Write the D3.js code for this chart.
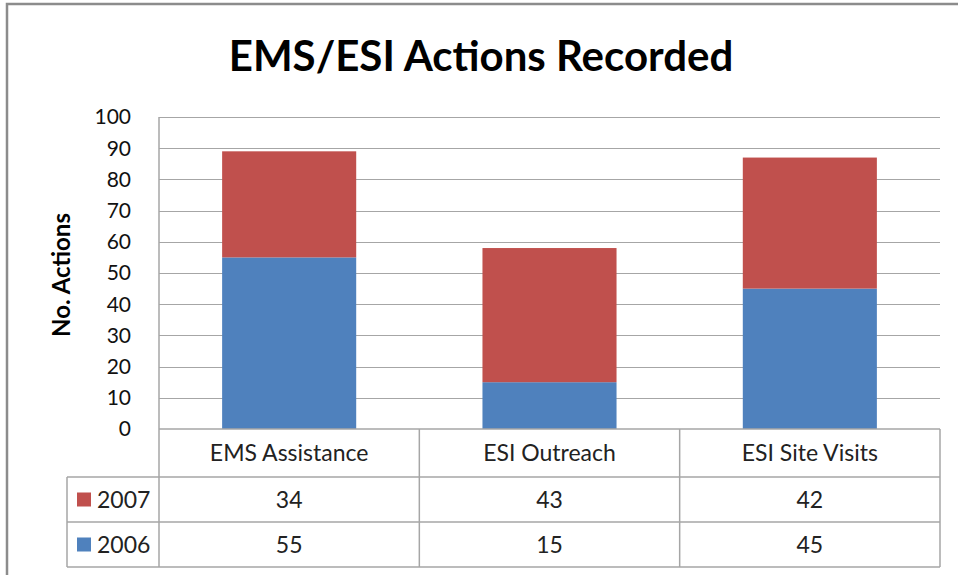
<!DOCTYPE html>
<html>
<head>
<meta charset="utf-8">
<script src="https://cdn.jsdelivr.net/npm/d3@7"></script>
<style>
  body { margin: 0; background: #fff; }
  text { font-family: "Lato", "Open Sans", sans-serif; }
</style>
</head>
<body>
<div id="chart"></div>
<script>
// data
const categories = ["EMS Assistance", "ESI Outreach", "ESI Site Visits"];
const series = ["2006", "2007"];
const values2006 = [55, 15, 45];
const values2007 = [34, 43, 42];
const yTicks = [0, 10, 20, 30, 40, 50, 60, 70, 80, 90, 100];

const colors = { "2006": "#4F81BD", "2007": "#C0504D" };
const gridColor = "#a6a6a6";

const W = 958, H = 575;
const plot = { left: 159, right: 940, top: 117, bottom: 429 };
const table = { left: 67, header: 477, row1: 522, row2: 567 };
const fs = 23;

const svg = d3.select("#chart").append("svg")
    .attr("width", W)
    .attr("height", H);

// outer chart border (top + left visible)
svg.append("path")
    .attr("d", `M7,${H} L7,4 L${W},4`)
    .attr("fill", "none")
    .attr("stroke", "#8c8c8c")
    .attr("stroke-width", 2.5);

// scales
const xCol = d3.scaleBand()
    .domain(categories)
    .range([plot.left, plot.right])
    .padding(0);

const x = d3.scaleBand()
    .domain(categories)
    .range([plot.left, plot.right])
    .paddingInner(0.485)
    .paddingOuter(0.2425);

const y = d3.scaleLinear()
    .domain([0, 100])
    .range([plot.bottom, plot.top]);

// gridlines
svg.append("g")
    .selectAll("line")
    .data(yTicks.slice(1))
    .join("line")
    .attr("x1", plot.left)
    .attr("x2", plot.right)
    .attr("y1", d => Math.round(y(d)) + 0.5)
    .attr("y2", d => Math.round(y(d)) + 0.5)
    .attr("stroke", gridColor)
    .attr("stroke-width", 1.2);

// stacked bars
const rows = categories.map((c, i) => ({ cat: c, "2006": values2006[i], "2007": values2007[i] }));
const stacked = d3.stack().keys(series)(rows);

svg.append("g")
    .selectAll("g")
    .data(stacked)
    .join("g")
    .attr("fill", d => colors[d.key])
    .selectAll("rect")
    .data(d => d)
    .join("rect")
    .attr("x", d => x(d.data.cat))
    .attr("width", x.bandwidth())
    .attr("y", d => y(d[1]))
    .attr("height", d => y(d[0]) - y(d[1]));

// y axis tick labels
svg.append("g")
    .selectAll("text")
    .data(yTicks)
    .join("text")
    .attr("x", 131)
    .attr("y", d => y(d))
    .attr("dy", "0.35em")
    .attr("text-anchor", "end")
    .attr("font-size", 21)
    .attr("fill", "#111")
    .text(d => d);

// y axis title
svg.append("text")
    .attr("transform", `translate(70,${(plot.top + plot.bottom) / 2 + 2}) rotate(-90)`)
    .attr("text-anchor", "middle")
    .attr("font-size", 24)
    .attr("font-weight", "bold")
    .text("No.  Actions");

// title
svg.append("text")
    .attr("x", 481)
    .attr("y", 71)
    .attr("text-anchor", "middle")
    .attr("font-size", 42)
    .attr("font-weight", "bold")
    .text("EMS/ESI Actions Recorded");

// data table lines
const tbl = svg.append("g")
    .attr("stroke", gridColor)
    .attr("stroke-width", 1.5)
    .attr("fill", "none");

// vertical axis + table left of header
tbl.append("line")
    .attr("x1", plot.left).attr("x2", plot.left)
    .attr("y1", plot.top).attr("y2", table.row2);

// column dividers
tbl.selectAll(".col")
    .data(categories)
    .join("line")
    .attr("class", "col")
    .attr("x1", d => xCol(d) + xCol.bandwidth())
    .attr("x2", d => xCol(d) + xCol.bandwidth())
    .attr("y1", plot.bottom)
    .attr("y2", table.row2);

// horizontal lines
tbl.append("line")
    .attr("x1", plot.left).attr("x2", plot.right)
    .attr("y1", plot.bottom).attr("y2", plot.bottom);

tbl.selectAll(".hrow")
    .data([table.header, table.row1, table.row2])
    .join("line")
    .attr("class", "hrow")
    .attr("x1", table.left)
    .attr("x2", plot.right)
    .attr("y1", d => d)
    .attr("y2", d => d);

tbl.append("line")
    .attr("x1", table.left).attr("x2", table.left)
    .attr("y1", table.header).attr("y2", table.row2);

// header labels
svg.append("g")
    .selectAll("text")
    .data(categories)
    .join("text")
    .attr("x", d => xCol(d) + xCol.bandwidth() / 2)
    .attr("y", (plot.bottom + table.header) / 2)
    .attr("dy", "0.35em")
    .attr("text-anchor", "middle")
    .attr("font-size", fs)
    .attr("fill", "#222")
    .text(d => d);

// table rows: 2007 on top, 2006 below
const tableRows = [
    { key: "2007", vals: values2007, top: table.header, bottom: table.row1 },
    { key: "2006", vals: values2006, top: table.row1, bottom: table.row2 }
];

tableRows.forEach(r => {
    const cy = (r.top + r.bottom) / 2;
    svg.append("rect")
        .attr("x", 77)
        .attr("y", cy - 7)
        .attr("width", 14)
        .attr("height", 14)
        .attr("fill", colors[r.key]);
    svg.append("text")
        .attr("x", 97)
        .attr("y", cy)
        .attr("dy", "0.35em")
        .attr("font-size", fs)
        .attr("fill", "#222")
        .text(r.key);
    svg.append("g")
        .selectAll("text")
        .data(categories)
        .join("text")
        .attr("x", d => xCol(d) + xCol.bandwidth() / 2)
        .attr("y", cy)
        .attr("dy", "0.35em")
        .attr("text-anchor", "middle")
        .attr("font-size", fs)
        .attr("fill", "#222")
        .text((d, i) => r.vals[i]);
});
</script>
</body>
</html>
